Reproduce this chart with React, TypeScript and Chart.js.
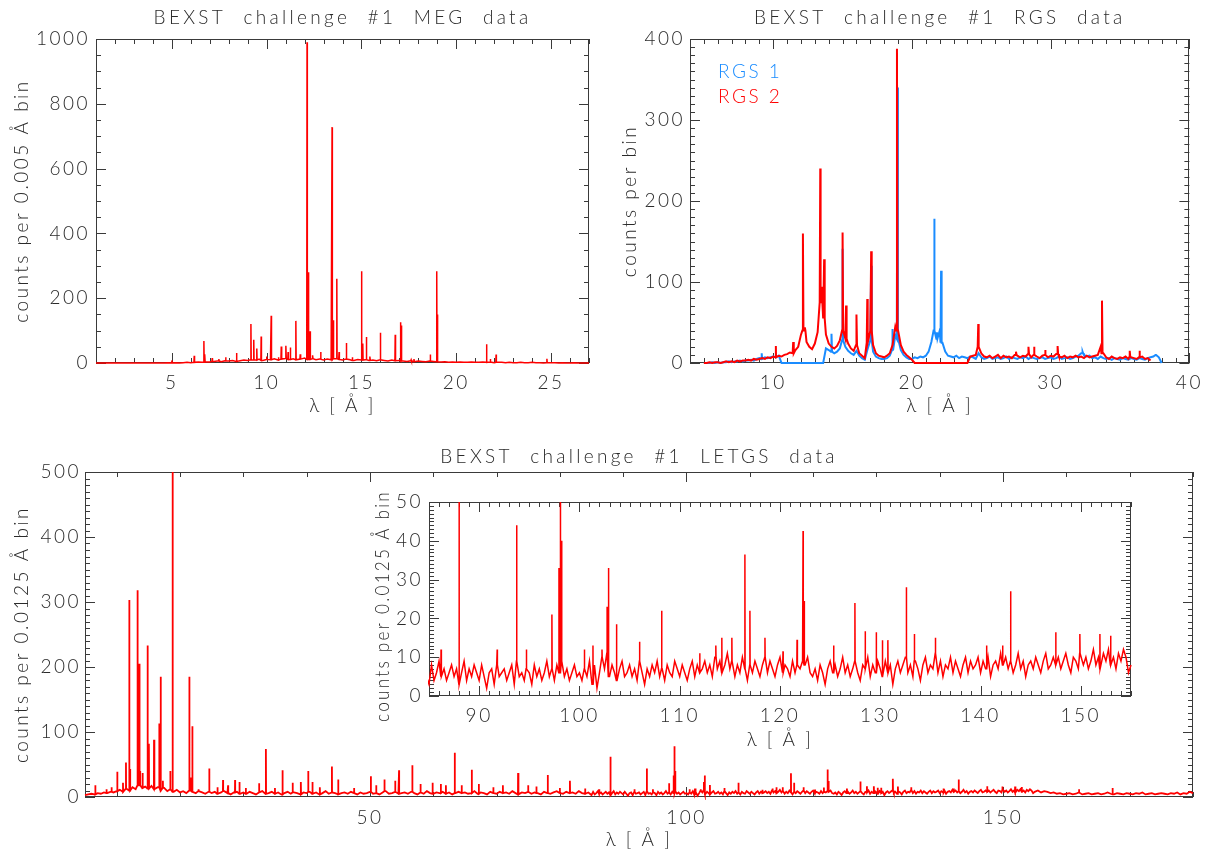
import React, { useEffect, useRef } from 'react';
import { Chart, registerables } from 'chart.js';

Chart.register(...registerables);

// ---------------- MEG (Chandra HETG) ----------------
const megStart = 1.0;
const megStep = 0.2;
const megContinuum = [
  0, 0, 0, 0, 0, 0, 0, 0, 0, 0, 0, 0, 0, 0, 0, 0, 0, 0, 0, 1, 0,
  1, 0, 1, 2, 1, 2, 3, 2, 4, 3,
  5, 6, 4, 7, 6, 8, 5, 7, 9, 8,
  10, 9, 12, 8, 11, 10, 13, 9, 12, 14,
  11, 13, 10, 12, 15, 11, 13, 10, 12, 9,
  12, 10, 13, 11, 9, 12, 10, 8, 11, 9,
  10, 8, 9, 7, 10, 8, 6, 9, 7, 8,
  6, 5, 7, 4, 6, 5, 4, 6, 5, 4,
  3, 4, 2, 3, 2, 3, 2, 2, 3, 2,
  2, 3, 2, 3, 1, 2, 2, 1, 2, 1,
  1, 2, 1, 1, 2, 1, 1, 0, 1, 1,
  1, 0, 1, 0, 0, 1, 0, 0, 0, 0,
];
const megLines: [number, number][] = [
  [5.0, 8], [6.18, 22], [6.69, 68], [6.74, 27], [7.13, 15], [7.48, 12], [7.84, 18],
  [8.42, 31], [9.17, 120], [9.32, 72], [9.48, 45], [9.71, 82], [10.0, 20], [10.24, 146],
  [10.63, 18], [10.77, 51], [11.02, 53], [11.13, 34], [11.25, 48], [11.54, 130], [11.77, 27],
  [12.13, 990], [12.21, 280], [12.29, 98], [12.43, 24], [12.85, 34], [13.45, 728], [13.52, 132],
  [13.7, 260], [13.82, 34], [14.21, 62], [14.52, 18], [15.01, 283], [15.07, 60], [15.26, 80],
  [15.45, 20], [16.0, 93], [16.78, 87], [17.05, 126], [17.1, 116], [17.62, 10], [17.77, 12],
  [18.63, 26], [18.97, 283], [19.02, 150], [21.6, 58], [21.8, 12], [22.1, 26], [24.78, 13],
];
const megXTicks = [5, 10, 15, 20, 25];
const megYTicks = [0, 200, 400, 600, 800, 1000];

// ---------------- RGS (XMM) ----------------
const rgsLabels = ['RGS 1', 'RGS 2'];
const rgs1Start = 5.0;
const rgs1Step = 0.2;
const rgs1Continuum = [
  0, 0, 0, 1, 0,
  1, 0, 1, 1, 2,
  1, 2, 2, 3, 2,
  3, 3, 4, 3, 5,
  6, 5, 7, 6, 7,
  8, 7, 9, 0, 0,
  0, 0, 0, 0, 0, 0, 0, 0, 0, 0, 0, 0, 0, 0,
  18,
  16, 14, 12, 14, 18,
  28, 20, 15, 12, 10,
  15, 9, 6, 4, 17,
  28, 14, 8, 6, 5,
  5, 6, 9, 16, 34,
  30, 16, 10, 7, 5,
  5, 7, 6, 8, 7,
  9, 14, 26, 40, 30,
  40, 25, 14, 9, 8,
  7, 9, 6, 8, 7,
  6, 8, 7, 5, 12,
  7, 5, 6, 8, 5,
  6, 7, 5, 6, 8,
  5, 7, 6, 5, 7,
  6, 8, 5, 7, 6,
  5, 6, 7, 5, 6,
  7, 5, 6, 8, 5,
  6, 7, 5, 6, 8,
  9, 12, 10, 8, 9,
  6, 7, 5, 8, 6,
  5, 6, 4, 6, 5,
  4, 6, 5, 4, 6,
  5, 4, 6, 5, 4,
  6, 7, 8, 10, 7,
  0,
];
const rgs1Lines: [number, number][] = [
  [9.17, 12], [14.2, 36], [15.0, 141], [17.06, 120], [18.6, 42], [18.95, 340],
  [21.6, 178], [21.8, 38], [22.1, 114], [32.3, 14], [37.6, 10],
];
const rgs2Start = 5.0;
const rgs2Step = 0.2;
const rgs2Continuum = [
  0, 0, 1, 0, 1,
  1, 0, 1, 2, 1,
  2, 1, 3, 2, 3,
  3, 4, 3, 5, 4,
  5, 6, 5, 7, 6,
  8, 7, 9, 8, 10,
  11, 13, 12, 16, 20,
  35, 40, 26, 20, 17,
  24, 38, 75, 55, 35,
  24, 20, 18, 21, 28,
  40, 30, 24, 18, 15,
  22, 12, 9, 6, 25,
  40, 22, 12, 9, 8,
  7, 9, 12, 22, 45,
  40, 22, 14, 10, 7,
  4, 0, 0, 0, 0,
  0, 0, 0, 0, 0,
  0, 0, 0, 0, 0,
  0, 0, 0, 0, 0,
  0, 8, 9, 10, 20,
  12, 8, 7, 9, 6,
  8, 10, 6, 9, 7,
  8, 6, 10, 9, 7,
  9, 8, 11, 7, 10,
  8, 6, 9, 10, 7,
  9, 8, 11, 8, 7,
  9, 6, 8, 7, 9,
  7, 8, 6, 9, 7,
  8, 9, 10, 20, 12,
  7, 5, 8, 6, 5,
  7, 6, 8, 5, 7,
  6, 5, 7, 8, 5,
  6, 3,
];
const rgs2Lines: [number, number][] = [
  [10.19, 21], [11.44, 26], [12.14, 160], [12.28, 44], [13.39, 240], [13.5, 94],
  [13.67, 128], [15.0, 161], [15.25, 71], [16.0, 60], [16.78, 79], [17.06, 138],
  [18.92, 388], [24.78, 48], [27.5, 14], [28.4, 20], [28.8, 20], [29.6, 16],
  [30.5, 21], [33.7, 77], [35.7, 15], [36.4, 15],
];
const rgsXTicks = [10, 20, 30, 40];
const rgsYTicks = [0, 100, 200, 300, 400];

// ---------------- LETGS (Chandra) ----------------
const letgsStartA = 5.0;
const letgsStepA = 0.5;
const letgsContinuumA = [
  3, 4, 5, 4, 6, 5, 7, 6, 8, 7,
  9, 11, 8, 13, 10, 15, 12, 18, 14, 16,
  13, 17, 12, 15, 10, 14, 9, 12, 8, 11,
  7, 9, 6, 10, 8, 6, 9, 7, 5, 8,
  6, 8, 5, 7, 9, 6, 4, 7, 8, 5,
  7, 5, 8, 6, 4, 7, 9, 5, 6, 8,
  5, 7, 4, 6, 8, 5, 7, 6, 4, 7,
  6, 8, 5, 7, 4, 6, 9, 5, 7, 6,
  4, 6, 7, 5, 8, 6, 4, 7, 5, 6,
  8, 5, 6, 4, 7, 9, 5, 6, 8, 5,
  6, 7, 5, 8, 6, 4, 7, 5, 9, 6,
  5, 7, 6, 8, 5, 7, 4, 6, 8, 6,
  7, 5, 6, 9, 5, 7, 6, 4, 8, 6,
  5, 8, 6, 7, 5, 9, 6, 4, 7, 6,
  8, 5, 7, 6, 4, 8, 6, 5, 7, 9,
  6, 5, 8, 6, 7, 5, 9, 6, 5, 7,
];
const letgsStartB = 85.0;
const letgsStepB = 0.25;
const letgsContinuumB = [
  3, 8, 4, 6, 9, 5, 7, 4, 6, 8,
  5, 7, 3, 6, 9, 4, 7, 5, 8, 6,
  4, 8, 5, 2, 6, 7, 3, 8, 5, 6,
  7, 4, 6, 8, 3, 9, 5, 6, 4, 7,
  6, 3, 8, 5, 7, 4, 6, 9, 5, 7,
  4, 8, 6, 9, 5, 7, 4, 6, 8, 5,
  6, 4, 7, 5, 9, 3, 8, 2, 6, 10,
  7, 11, 5, 8, 6, 4, 7, 9, 5, 6,
  8, 5, 7, 4, 9, 6, 3, 7, 5, 8,
  6, 9, 5, 7, 4, 8, 6, 5, 9, 7,
  5, 8, 6, 4, 7, 9, 5, 8, 6, 7,
  9, 6, 8, 5, 10, 7, 9, 6, 8, 11,
  7, 9, 5, 8, 6, 10, 7, 4, 8, 6,
  9, 7, 5, 8, 10, 6, 9, 7, 5, 8,
  10, 6, 8, 7, 5, 9, 6, 8, 7, 9,
  8, 10, 6, 5, 7, 4, 8, 6, 3, 7,
  9, 6, 8, 5, 7, 10, 6, 8, 5, 7,
  9, 6, 4, 8, 7, 10, 5, 8, 6, 9,
  7, 5, 9, 6, 8, 3, 7, 9, 6, 8,
  10, 6, 8, 5, 9, 7, 4, 8, 10, 6,
  8, 7, 11, 6, 9, 5, 8, 7, 10, 6,
  9, 7, 5, 8, 10, 6, 9, 7, 8, 10,
  6, 9, 7, 10, 5, 8, 9, 7, 11, 8,
  10, 7, 9, 6, 8, 11, 7, 9, 5, 8,
  9, 7, 10, 8, 6, 9, 11, 7, 8, 10,
  8, 10, 7, 9, 11, 8, 6, 10, 9, 7,
  11, 8, 10, 7, 9, 12, 8, 10, 7, 11,
  9, 12, 8, 10, 7, 11, 9, 12, 10, 6,
];
const letgsStartC = 155.0;
const letgsStepC = 0.5;
const letgsContinuumC = [
  8, 10, 7, 9, 8, 6, 7, 5, 6, 4,
  5, 6, 4, 5, 7, 4, 5, 6, 4, 5,
  6, 4, 5, 7, 5, 4, 6, 5, 4, 6,
  5, 4, 6, 5, 7, 4, 5, 6, 4, 5,
  6, 5, 4, 6, 5, 7, 4, 6, 5, 8,
  6,
];
const letgsLines: [number, number][] = [
  [6.63, 18], [8.4, 12], [9.2, 15], [10.1, 39], [11.0, 22], [11.47, 53], [12.0, 303],
  [12.13, 43], [13.3, 318], [13.53, 205], [13.7, 40], [14.1, 37], [14.89, 233], [15.1, 82],
  [15.9, 88], [16.73, 113], [16.94, 185], [17.3, 25], [18.47, 40], [18.84, 520], [21.48, 185],
  [21.7, 30], [21.94, 109], [22.9, 12], [24.63, 44], [25.9, 15], [26.8, 26], [27.6, 18],
  [28.7, 26], [29.4, 23], [30.4, 14], [32.5, 21], [33.58, 74], [35.0, 14], [36.2, 41],
  [37.8, 22], [39.1, 23], [40.26, 40], [40.9, 23], [42.1, 15], [44.0, 47], [45.0, 27],
  [47.5, 14], [50.15, 32], [51.0, 18], [52.3, 27], [54.0, 25], [54.6, 41], [56.7, 49],
  [58.0, 20], [59.9, 22], [61.2, 20], [62.0, 18], [63.4, 68], [64.5, 18], [66.1, 42],
  [67.2, 20], [69.5, 15], [71.0, 18], [73.4, 37], [75.0, 18], [76.3, 16], [78.1, 34],
  [80.0, 14], [81.6, 25], [84.0, 13],
  [86.2, 12], [88.0, 62], [91.8, 12], [93.74, 44], [94.7, 12], [97.26, 21], [97.96, 33],
  [98.1, 78], [98.22, 40], [100.5, 12], [101.35, 13], [102.25, 12], [102.75, 23], [102.9, 33],
  [103.7, 18.5], [106.0, 14], [108.2, 22], [112.0, 11], [113.6, 13], [114.2, 15], [115.2, 15],
  [116.5, 36.5], [117.0, 22], [118.5, 15], [120.3, 11.5], [121.7, 14.5], [122.3, 42.5],
  [122.42, 24.5], [125.35, 13], [127.47, 24], [128.5, 16.7], [129.6, 16.4], [130.2, 14.4],
  [130.76, 14.4], [132.6, 28], [133.4, 16], [135.5, 15], [140.6, 13], [142.2, 13], [143.0, 27],
  [147.5, 16.4], [149.9, 16], [151.9, 16], [152.96, 15.5],
  [162.0, 12], [167.3, 14],
];
const letgsXTicks = [50, 100, 150];
const letgsYTicks = [0, 100, 200, 300, 400, 500];
const insetXTicks = [90, 100, 110, 120, 130, 140, 150];
const insetYTicks = [0, 10, 20, 30, 40, 50];

// ---------------- helpers ----------------
type Seg = { start: number; step: number; values: number[] };
type Pt = { x: number; y: number };

function buildSpectrum(segs: Seg[], lines: [number, number][], eps: number): Pt[] {
  const cont: Pt[] = [];
  segs.forEach((s) =>
    s.values.forEach((v, i) => cont.push({ x: +(s.start + i * s.step).toFixed(4), y: v }))
  );
  cont.sort((a, b) => a.x - b.x);
  const out = cont.slice();
  lines.forEach(([lam, h]) => {
    let best = cont[0];
    for (const p of cont) if (Math.abs(p.x - lam) < Math.abs(best.x - lam)) best = p;
    out.push({ x: lam - eps, y: best.y }, { x: lam, y: h }, { x: lam + eps, y: best.y });
  });
  out.sort((a, b) => a.x - b.x);
  return out;
}

const RED = '#ff0000';
const BLUE = '#1a8cff';
const INK = '#2a2a2a';
const FONT = { family: 'Lato, "DejaVu Sans", sans-serif', size: 19, weight: 300 as any };

// title text (drawn first) gets wide spacing; axis text (drawn after the data) gets narrower spacing
const spacingPlugin = {
  id: 'spacing',
  beforeDraw(chart: any) {
    chart.ctx.letterSpacing = '3.3px';
    chart.ctx.wordSpacing = '9px';
  },
  afterDatasetsDraw(chart: any) {
    chart.ctx.letterSpacing = '2.5px';
    chart.ctx.wordSpacing = '0px';
  },
};

const idlAxes = {
  id: 'idlAxes',
  beforeDatasetsDraw(chart: any, _a: any, opts: any) {
    const { ctx, chartArea: a, scales } = chart;
    const xs = scales.x;
    const ys = scales.y;
    ctx.save();
    ctx.strokeStyle = '#3a3a3a';
    ctx.lineWidth = 1;
    ctx.strokeRect(Math.round(a.left) + 0.5, Math.round(a.top) + 0.5,
      Math.round(a.right - a.left) - 1, Math.round(a.bottom - a.top) - 1);
    ctx.beginPath();
    const tick = (scale: any, minor: number, major: number, horiz: boolean) => {
      const lo = Math.ceil(scale.min / minor - 1e-9);
      const hi = Math.floor(scale.max / minor + 1e-9);
      for (let i = lo; i <= hi; i++) {
        const v = i * minor;
        const r = v / major;
        const isMajor = Math.abs(r - Math.round(r)) < 1e-6;
        const len = isMajor ? 10 : 5;
        const p = Math.round(scale.getPixelForValue(v)) + 0.5;
        if (horiz) {
          ctx.moveTo(p, a.bottom); ctx.lineTo(p, a.bottom - len);
          ctx.moveTo(p, a.top); ctx.lineTo(p, a.top + len);
        } else {
          ctx.moveTo(a.left, p); ctx.lineTo(a.left + len, p);
          ctx.moveTo(a.right, p); ctx.lineTo(a.right - len, p);
        }
      }
    };
    tick(xs, opts.xMinor, opts.xMajor, true);
    tick(ys, opts.yMinor, opts.yMajor, false);
    ctx.stroke();
    ctx.restore();
  },
};

const textLegend = {
  id: 'textLegend',
  afterDatasetsDraw(chart: any, _a: any, opts: any) {
    const { ctx, chartArea: a } = chart;
    ctx.save();
    ctx.font = `${FONT.weight} ${FONT.size}px ${FONT.family}`;
    if (opts.items) {
      ctx.textBaseline = 'middle';
      ctx.textAlign = 'left';
      opts.items.forEach((it: any, i: number) => {
        ctx.fillStyle = it.color;
        ctx.fillText(it.text, a.left + 28, a.top + 33 + i * 25);
      });
    }
    if (opts.freeYTitle) {
      ctx.fillStyle = INK;
      ctx.textAlign = 'center';
      ctx.textBaseline = 'middle';
      ctx.translate(opts.freeYTitle.x, (a.top + a.bottom) / 2 + 7);
      ctx.rotate(-Math.PI / 2);
      ctx.fillText(opts.freeYTitle.text, 0, 0, opts.freeYTitle.maxWidth);
    }
    ctx.restore();
  },
};

type ChartSpec = {
  datasets: any[];
  xMin: number; xMax: number; yMin: number; yMax: number;
  xTicks: number[]; yTicks: number[];
  xMinor: number; xMajor: number; yMinor: number; yMajor: number;
  title?: string; titlePad?: { top: number; bottom: number };
  xTitle: string; yTitle: string;
  yAxisWidth: number; xAxisHeight: number;
  layoutPad: { left: number; right: number; top: number; bottom: number };
  xTickPad: number; yTickPad: number; xTitlePad: number; yTitlePad: number;
  legendItems?: { text: string; color: string }[];
  freeYTitleX?: number;
  freeYTitleMax?: number;
};

function makeConfig(s: ChartSpec): any {
  const free = s.freeYTitleX !== undefined;
  return {
    type: 'line',
    data: { datasets: s.datasets },
    plugins: [spacingPlugin, idlAxes, textLegend],
    options: {
      animation: false,
      responsive: false,
      maintainAspectRatio: false,
      events: [],
      layout: { padding: s.layoutPad },
      elements: { point: { radius: 0 }, line: { tension: 0 } },
      plugins: {
        legend: { display: false },
        tooltip: { enabled: false },
        title: s.title
          ? { display: true, text: s.title, fullSize: false, color: INK, font: FONT, padding: s.titlePad }
          : { display: false },
        idlAxes: { xMinor: s.xMinor, xMajor: s.xMajor, yMinor: s.yMinor, yMajor: s.yMajor },
        textLegend: {
          items: s.legendItems,
          freeYTitle: free ? { text: s.yTitle, x: s.freeYTitleX, maxWidth: s.freeYTitleMax } : undefined,
        },
      },
      scales: {
        x: {
          type: 'linear', min: s.xMin, max: s.xMax, offset: false,
          grid: { display: false, drawTicks: false, z: 1 },
          border: { display: false },
          ticks: { z: 1, color: INK, font: FONT, padding: s.xTickPad, maxRotation: 0, autoSkip: false, callback: (v: any) => String(v) },
          afterBuildTicks: (ax: any) => { ax.ticks = s.xTicks.map((v) => ({ value: v })); },
          afterFit: (ax: any) => { ax.height = s.xAxisHeight; },
          title: { display: true, text: s.xTitle, color: INK, font: FONT, padding: { top: 0, bottom: s.xTitlePad } },
        },
        y: {
          type: 'linear', min: s.yMin, max: s.yMax,
          grid: { display: false, drawTicks: false, z: 1 },
          border: { display: false },
          ticks: { z: 1, color: INK, font: FONT, padding: s.yTickPad, autoSkip: false, callback: (v: any) => String(v) },
          afterBuildTicks: (ax: any) => { ax.ticks = s.yTicks.map((v) => ({ value: v })); },
          afterFit: (ax: any) => { ax.width = s.yAxisWidth; },
          title: { display: !free, text: s.yTitle, color: INK, font: FONT, padding: { top: s.yTitlePad, bottom: 0 } },
        },
      },
    },
  };
}

function ChartBox(props: { left: number; top: number; width: number; height: number; spec: () => ChartSpec }) {
  const ref = useRef<HTMLCanvasElement>(null);
  useEffect(() => {
    const chart = new Chart(ref.current as HTMLCanvasElement, makeConfig(props.spec()));
    return () => chart.destroy();
  }, []);
  return (
    <canvas
      ref={ref}
      width={props.width}
      height={props.height}
      style={{ position: 'absolute', left: props.left, top: props.top, width: props.width, height: props.height }}
    />
  );
}

const lineDs = (label: string, data: Pt[], color: string, width: number) => ({
  label, data, borderColor: color, borderWidth: width, fill: false, pointRadius: 0,
  clip: { left: 1, right: 1, top: 0, bottom: 3 },
});

export default function App() {
  const meg = buildSpectrum([{ start: megStart, step: megStep, values: megContinuum }], megLines, 0.015);
  const rgs1 = buildSpectrum([{ start: rgs1Start, step: rgs1Step, values: rgs1Continuum }], rgs1Lines, 0.04);
  const rgs2 = buildSpectrum([{ start: rgs2Start, step: rgs2Step, values: rgs2Continuum }], rgs2Lines, 0.04);
  const letgs = buildSpectrum(
    [
      { start: letgsStartA, step: letgsStepA, values: letgsContinuumA },
      { start: letgsStartB, step: letgsStepB, values: letgsContinuumB },
      { start: letgsStartC, step: letgsStepC, values: letgsContinuumC },
    ],
    letgsLines,
    0.02
  );

  return (
    <div style={{ position: 'absolute', left: 0, top: 0, width: 1209, height: 852, background: '#fff' }}>
      <ChartBox left={0} top={0} width={600} height={425} spec={() => ({
        datasets: [lineDs('MEG', meg, RED, 1.5)],
        xMin: 1, xMax: 27, yMin: 0, yMax: 1000,
        xTicks: megXTicks, yTicks: megYTicks,
        xMinor: 1, xMajor: 5, yMinor: 50, yMajor: 200,
        title: 'BEXST challenge #1 MEG data', titlePad: { top: 6.5, bottom: 9.7 },
        xTitle: 'λ [ Å ]', yTitle: 'counts per 0.005 Å bin',
        yAxisWidth: 96, xAxisHeight: 62,
        layoutPad: { left: 0, right: 11, top: 0, bottom: 0 },
        xTickPad: 8.6, yTickPad: 6, xTitlePad: 7.6, yTitlePad: 10.6,
      })} />
      <ChartBox left={600} top={0} width={609} height={425} spec={() => ({
        datasets: [lineDs(rgsLabels[1], rgs2, RED, 2), lineDs(rgsLabels[0], rgs1, BLUE, 2)],
        xMin: 4, xMax: 40, yMin: 0, yMax: 400,
        xTicks: rgsXTicks, yTicks: rgsYTicks,
        xMinor: 1, xMajor: 10, yMinor: 10, yMajor: 100,
        title: 'BEXST challenge #1 RGS data', titlePad: { top: 6.5, bottom: 9.7 },
        xTitle: 'λ [ Å ]', yTitle: 'counts per bin',
        yAxisWidth: 90, xAxisHeight: 62,
        layoutPad: { left: 0, right: 16, top: 0, bottom: 0 },
        xTickPad: 8.6, yTickPad: 5, xTitlePad: 7.6, yTitlePad: 18.6,
        legendItems: [{ text: rgsLabels[0], color: BLUE }, { text: rgsLabels[1], color: RED }],
      })} />
      <ChartBox left={0} top={425} width={1209} height={427} spec={() => ({
        datasets: [lineDs('LETGS', letgs, RED, 1.8)],
        xMin: 5, xMax: 180, yMin: 0, yMax: 500,
        xTicks: letgsXTicks, yTicks: letgsYTicks,
        xMinor: 10, xMajor: 50, yMinor: 10, yMajor: 100,
        title: 'BEXST challenge #1 LETGS data', titlePad: { top: 20.6, bottom: 3.6 },
        xTitle: 'λ [ Å ]', yTitle: 'counts per 0.0125 Å bin',
        yAxisWidth: 85, xAxisHeight: 55,
        layoutPad: { left: 0, right: 16, top: 0, bottom: 0 },
        xTickPad: 9.6, yTickPad: 4, xTitlePad: 0.6, yTitlePad: 10.6,
      })} />
      <ChartBox left={340} top={460} width={800} height={295} spec={() => ({
        datasets: [lineDs('LETGS inset', letgs, RED, 1.5)],
        xMin: 85, xMax: 155, yMin: 0, yMax: 50,
        xTicks: insetXTicks, yTicks: insetYTicks,
        xMinor: 1, xMajor: 10, yMinor: 1, yMajor: 10,
        xTitle: 'λ [ Å ]', yTitle: 'counts per 0.0125 Å bin',
        yAxisWidth: 89, xAxisHeight: 59,
        layoutPad: { left: 0, right: 9, top: 42, bottom: 0 },
        xTickPad: 8.6, yTickPad: 6, xTitlePad: 3.6, yTitlePad: 32,
        freeYTitleX: 43,
        freeYTitleMax: 232,
      })} />
    </div>
  );
}
